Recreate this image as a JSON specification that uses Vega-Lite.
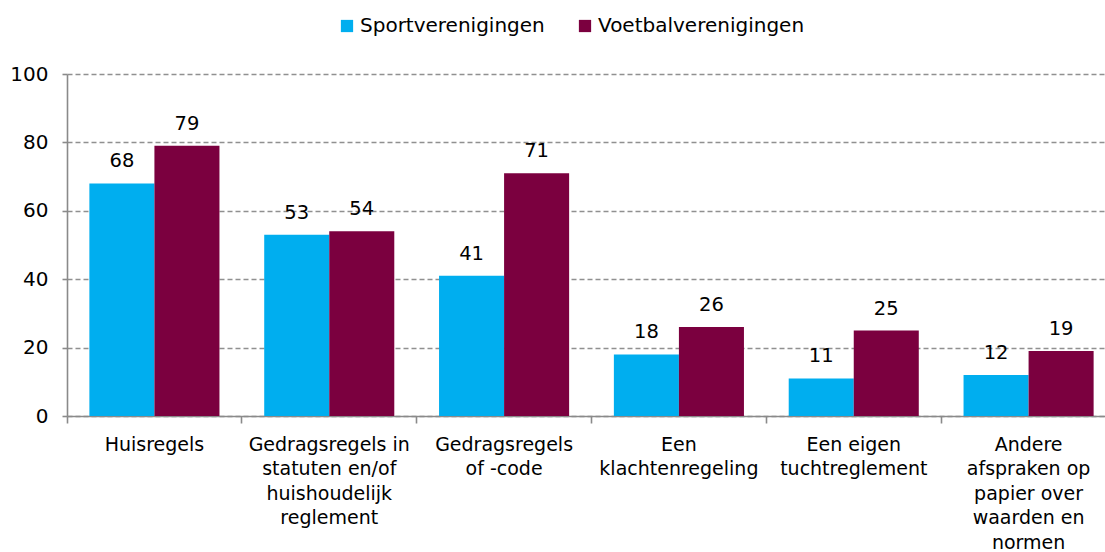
{
  "$schema": "https://vega.github.io/schema/vega-lite/v6.json",
  "autosize": "none",
  "padding": {"left": 67, "top": 74, "right": 0, "bottom": 136},
  "width": 1049,
  "height": 342,
  "background": "white",
  "config": {
    "font": "DejaVu Sans",
    "view": {"stroke": null},
    "axis": {"labelFont": "DejaVu Sans", "labelColor": "black", "labelFontSize": 19.5, "domainColor": "#8a8a8a", "tickColor": "#8a8a8a", "domainWidth": 1.6, "tickWidth": 1.6}
  },
  "data": {
    "values": [
      {"cat": "Huisregels", "group": "Sportverenigingen", "value": 68},
      {"cat": "Huisregels", "group": "Voetbalverenigingen", "value": 79},
      {"cat": "Gedragsregels in|statuten en/of|huishoudelijk|reglement", "group": "Sportverenigingen", "value": 53},
      {"cat": "Gedragsregels in|statuten en/of|huishoudelijk|reglement", "group": "Voetbalverenigingen", "value": 54},
      {"cat": "Gedragsregels|of -code", "group": "Sportverenigingen", "value": 41},
      {"cat": "Gedragsregels|of -code", "group": "Voetbalverenigingen", "value": 71},
      {"cat": "Een|klachtenregeling", "group": "Sportverenigingen", "value": 18},
      {"cat": "Een|klachtenregeling", "group": "Voetbalverenigingen", "value": 26},
      {"cat": "Een eigen|tuchtreglement", "group": "Sportverenigingen", "value": 11},
      {"cat": "Een eigen|tuchtreglement", "group": "Voetbalverenigingen", "value": 25},
      {"cat": "Andere|afspraken op|papier over|waarden en|normen", "group": "Sportverenigingen", "value": 12},
      {"cat": "Andere|afspraken op|papier over|waarden en|normen", "group": "Voetbalverenigingen", "value": 19}
    ]
  },
  "encoding": {
    "x": {"field": "cat", "type": "nominal", "sort": null,
          "scale": {"paddingInner": 0.256, "paddingOuter": 0.128}},
    "xOffset": {"field": "group", "type": "nominal", "scale": {"padding": 0}},
    "y": {"field": "value", "type": "quantitative",
          "scale": {"domain": [0, 100]},
          "axis": {"values": [0, 20, 40, 60, 80, 100], "title": null, "tickSize": 5, "labelPadding": 14,
                   "labelFontSize": 20, "gridColor": "#909090", "gridDash": [5, 3], "gridWidth": 1.3}}
  },
  "resolve": {"axis": {"x": "independent"}},
  "layer": [
    {
      "mark": {"type": "bar"},
      "encoding": {
        "x": {"field": "cat", "type": "nominal", "sort": null,
              "axis": {"title": null, "orient": "bottom", "labelAngle": 0, "ticks": false,
                       "labelPadding": 19, "labelExpr": "split(datum.value, '|')", "labelLineHeight": 24.5,
                       "labelBaseline": "top", "labelLimit": 0, "labelFontSize": 19, "domain": true, "grid": false}},
        "color": {"field": "group", "type": "nominal",
                  "scale": {"domain": ["Sportverenigingen", "Voetbalverenigingen"], "range": ["#00AEEF", "#7B003F"]},
                  "legend": {"title": null, "orient": "none", "direction": "horizontal", "legendX": 270, "legendY": -58,
                             "symbolType": "square", "symbolSize": 150, "symbolStrokeWidth": 0, "labelFontSize": 20,
                             "labelFont": "DejaVu Sans", "labelColor": "black", "columnPadding": 30, "labelOffset": 3, "labelLimit": 0}}
      }
    },
    {
      "mark": {"type": "text", "baseline": "bottom", "dy": -12, "fontSize": 19.5, "color": "black"},
      "encoding": {
        "x": {"field": "cat", "type": "nominal", "sort": null,
              "axis": {"title": null, "orient": "bottom", "labels": false, "ticks": true, "tickSize": 7,
                       "bandPosition": -0.172, "domain": false, "grid": false, "tickColor": "#8a8a8a", "tickWidth": 1.6}},
        "text": {"field": "value", "type": "quantitative"}
      }
    }
  ]
}
